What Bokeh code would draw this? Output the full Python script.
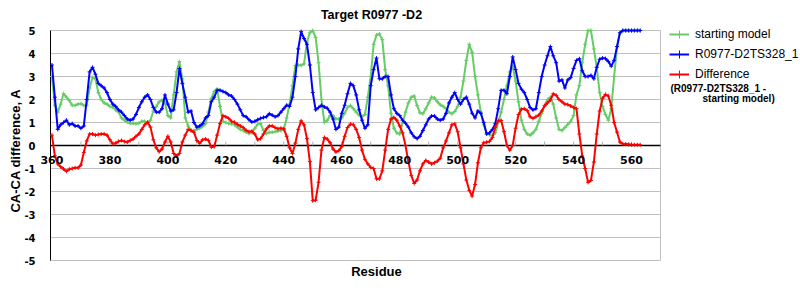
import math
from bokeh.plotting import figure
from bokeh.models import (Range1d, FixedTicker, Legend, LegendItem, Label, LabelSet,
                          ColumnDataSource, Grid)
from bokeh.core.properties import value
from bokeh.embed import file_html
from bokeh.resources import INLINE

# ---------------- data ----------------
residues = list(range(360, 564))

starting_model = [
    3.0, 1.75, 1.45, 1.8, 2.25, 2.1, 1.95, 1.75, 1.74, 1.8,
    1.82, 1.74, 1.75, 2.5, 2.95, 2.9, 2.3, 2.0, 1.85, 1.8,
    1.7, 1.67, 1.55, 1.45, 1.2, 1.1, 1.02, 0.96, 0.97, 0.95,
    0.97, 1.05, 1.05, 1.0, 1.1, 1.5, 1.7, 1.9, 1.97, 1.85,
    1.3, 1.2, 2.2, 3.2, 3.65, 2.9, 1.2, 0.85, 0.65, 0.65,
    0.7, 0.75, 0.83, 0.95, 1.45, 2.05, 2.35, 2.46, 1.7, 1.05,
    1.0, 0.96, 0.94, 0.9, 0.8, 0.7, 0.65, 0.58, 0.52, 0.55,
    0.75, 0.92, 0.95, 0.65, 0.52, 0.57, 0.58, 0.6, 0.63, 0.65,
    0.7, 1.2, 1.8, 2.6, 3.48, 3.5, 3.48, 3.55, 4.5, 4.9,
    5.0, 4.7, 3.6, 2.0, 1.0, 1.1, 1.3, 1.3, 1.16, 1.16,
    1.2, 1.4, 1.65, 1.74, 1.6, 1.45, 1.32, 1.25, 1.35, 2.1,
    3.0, 4.4, 4.8, 4.85, 4.6, 3.3, 2.6, 1.4, 0.75, 0.55,
    0.5, 1.0, 1.45, 1.85, 2.1, 2.15, 1.74, 1.42, 1.38, 1.6,
    1.85, 2.1, 2.07, 1.9, 1.77, 1.7, 1.6, 1.45, 1.38, 1.48,
    1.7, 2.1, 2.8, 3.7, 4.4, 4.05, 3.0, 2.2, 1.45, 0.9,
    0.55, 0.47, 0.43, 0.55, 1.0, 1.45, 2.0, 2.6, 3.2, 3.45,
    2.8, 1.9, 1.1, 0.7, 0.5, 0.45, 0.55, 0.7, 1.05, 1.4,
    1.75, 2.0, 2.1, 1.8, 1.2, 0.7, 0.65, 0.78, 0.92, 1.05,
    1.3, 2.2, 2.6, 3.6, 4.4, 5.0, 5.0, 4.2, 3.4, 2.3,
    1.7, 1.35, 1.1, 1.6, 3.0, 4.3, 4.9, 5.0, 5.0, 5.0,
    5.0, 5.0, 5.0, 5.0,
]

model_ts328 = [
    3.5, 2.1, 0.7, 0.9, 1.0, 1.1, 0.9, 0.95, 0.85, 0.85,
    0.75, 0.85, 2.0, 3.2, 3.4, 3.1, 2.7, 2.6, 2.5, 2.3,
    2.0, 1.8, 1.7, 1.55, 1.45, 1.3, 1.15, 1.1, 1.15, 1.35,
    1.65, 1.9, 2.1, 2.2, 2.0, 1.65, 1.45, 1.45, 1.6, 2.2,
    1.8, 1.5, 1.55, 2.3, 3.35, 2.7, 2.1, 1.45, 1.5, 1.0,
    0.8, 0.85, 0.95, 1.2, 1.3, 1.9, 2.1, 2.4, 2.4, 2.35,
    2.3, 2.2, 2.15, 2.0, 1.8, 1.55, 1.3, 1.25, 1.12, 1.02,
    1.05, 1.12, 1.18, 1.22, 1.25, 1.38, 1.32, 1.25, 1.3, 1.45,
    1.6, 1.75, 1.7, 2.1, 3.0, 4.2, 4.95, 4.65, 4.4, 3.5,
    2.3, 1.55, 1.65, 1.75, 1.68, 1.62, 1.45, 1.15, 0.7, 0.8,
    1.4, 1.75, 2.25, 2.7, 2.6, 2.2, 1.55, 1.1, 0.75, 0.9,
    2.6, 3.3, 3.8, 2.9, 2.9, 3.0, 3.0, 2.2, 1.6, 1.4,
    1.3, 1.1, 0.97, 0.8, 0.55, 0.38, 0.3, 0.4, 0.65, 0.9,
    1.15, 1.28, 1.28, 1.15, 1.1, 1.15, 1.4, 1.85, 2.1, 2.3,
    2.0, 1.8, 2.0, 2.1, 1.8, 1.4, 1.2, 1.5, 1.4, 1.0,
    0.5, 0.55, 0.7, 0.95, 1.6, 2.4, 2.4, 2.25, 3.0, 3.85,
    3.3, 2.7, 2.45, 2.3, 2.0, 1.65, 1.55, 1.6, 2.3, 3.0,
    3.5, 3.9, 4.3, 3.9, 3.6, 2.8, 2.85, 2.5, 2.85, 2.95,
    3.35, 3.7, 3.77, 3.25, 3.0, 3.0, 3.05, 2.9, 3.4, 3.75,
    3.8, 3.78, 3.65, 3.45, 3.7, 4.3, 4.9, 5.0, 5.0, 5.0,
    5.0, 5.0, 5.0, 5.0,
]

difference = [
    0.45, -0.45, -0.8, -0.92, -1.02, -1.12, -1.03, -1.0, -0.97, -0.97,
    -0.85, -0.3, 0.2, 0.5, 0.5, 0.45, 0.48, 0.5, 0.5, 0.45,
    0.25, 0.08, 0.1, 0.18, 0.22, 0.17, 0.15, 0.22, 0.28, 0.4,
    0.5, 0.7, 0.9, 1.01, 0.8, 0.25, -0.1, -0.27, -0.15, 0.15,
    0.4, 0.15, -0.35, -0.45, -0.35, 0.15, 0.45, 0.7, 0.65, 0.58,
    0.22, 0.1, 0.25, 0.28, 0.22, -0.07, -0.05, 0.45, 0.95, 1.3,
    1.25, 1.18, 1.05, 1.01, 0.92, 0.85, 0.78, 0.66, 0.6, 0.62,
    0.5, 0.25, 0.3, 0.5, 0.72, 0.85, 0.85, 0.78, 0.73, 0.75,
    0.73, 0.4, -0.1, -0.35, 0.1, 0.7, 1.07, 0.9, 0.3, -0.7,
    -2.4, -2.38, -1.6, -0.2, 0.35, 0.28, 0.12, -0.15, -0.28, -0.22,
    -0.05, 0.4, 0.78, 0.93, 0.9, 0.7, 0.35, -0.2, -0.6, -0.8,
    -0.95, -1.0, -1.45, -1.45, -1.1, -0.2, 0.7, 1.15, 1.22, 1.1,
    0.85, 0.55, 0.0, -0.7, -1.3, -1.65, -1.5, -1.1, -0.8, -0.65,
    -0.72, -0.8, -0.75, -0.68, -0.55, -0.1, 0.2, 0.55, 0.9, 0.94,
    0.6, -0.1, -0.8, -1.5, -1.95, -2.2, -1.7, -0.75, -0.1, 0.12,
    0.14, 0.18, 0.35, 0.8, 1.08, 1.09, 0.6, 0.0, -0.2, 0.0,
    0.75, 1.35, 1.58, 1.6, 1.52, 1.25, 1.18, 1.25, 1.32, 1.5,
    1.72, 1.85, 1.98, 2.25, 2.18, 2.0, 1.9, 1.8, 1.78, 1.72,
    1.65, 1.6, 0.5, -0.45, -1.0, -1.6, -1.52, -0.72, 0.5, 1.5,
    2.05, 2.22, 2.15, 1.75, 1.0, 0.58, 0.15, 0.07, 0.07, 0.05,
    0.03, 0.03, 0.03, 0.03,
]

x_tick_values = [360, 380, 400, 420, 440, 460, 480, 500, 520, 540, 560]
x_tick_labels = [str(v) for v in x_tick_values]
x_minor_ticks = list(range(370, 570, 10))
y_tick_values = [-5, -4, -3, -2, -1, 0, 1, 2, 3, 4, 5]
y_tick_labels = ["-5", "-4", "-3", "-2", "-1", "0", "1", "2", "3", "4", "5"]

series_names = ["starting model", "R0977-D2TS328_1", "Difference"]
series_colors = ["#66CC66", "#0000FF", "#FF0000"]

# ---------------- layout ----------------
W, H = 800, 300
# plot area in canvas pixels and the data values at its edges
AREA_L, AREA_R, AREA_T, AREA_B = 50, 660, 30, 260
XA0, XA1 = 359.5, 570.0
YA0, YA1 = -5.0, 5.0
KX = (XA1 - XA0) / (AREA_R - AREA_L)
KY = (YA1 - YA0) / (AREA_B - AREA_T)


def xd(px):
    return XA0 + (px - AREA_L) * KX


def yd(py):
    return YA1 - (py - AREA_T) * KY


p = figure(width=W, height=H, output_backend="svg", toolbar_location=None,
           x_range=Range1d(xd(0), xd(W)), y_range=Range1d(yd(H), yd(0)),
           x_axis_location=None, y_axis_location=None,
           min_border_left=0, min_border_right=0, min_border_top=0, min_border_bottom=0)
p.background_fill_color = "white"
p.border_fill_color = "white"
p.outline_line_color = None
p.grid.visible = False


def rule(dim, at, bounds, color, width):
    """A set of straight lines across the plot area (grid, axis line, border)."""
    try:
        g = Grid(dimension=dim, ticker=FixedTicker(ticks=list(at)), grid_line_color=color,
                 grid_line_width=width, cross_bounds=bounds)
        p.add_layout(g)
    except AttributeError:
        n = len(at)
        if dim == 1:
            p.segment(x0=[bounds[0]] * n, y0=list(at), x1=[bounds[1]] * n, y1=list(at),
                      line_color=color, line_width=width, level="underlay")
        else:
            p.segment(x0=list(at), y0=[bounds[0]] * n, x1=list(at), y1=[bounds[1]] * n,
                      line_color=color, line_width=width, level="underlay")


rule(1, y_tick_values, (XA0, XA1), "#c0c0c0", 1)        # horizontal grid
rule(0, [XA1], (YA0, YA1), "#c0c0c0", 1)                 # right border
rule(0, [XA0], (YA0, YA1), "black", 1)                   # y axis line
rule(1, [0], (XA0, XA1), "black", 1.3)                   # zero line

# small ticks on the zero line
p.segment(x0=x_minor_ticks, y0=[0] * len(x_minor_ticks), x1=x_minor_ticks,
          y1=[0.17] * len(x_minor_ticks), line_color="#b0b0b0", line_width=1)

# tick labels
xt_src = ColumnDataSource(dict(x=x_tick_values, y=[0] * len(x_tick_values), text=x_tick_labels))
p.add_layout(LabelSet(x="x", y="y", text="text", source=xt_src, text_align="center",
                      text_baseline="middle", y_offset=-14,
                      text_font=value("DejaVu Sans"), text_font_style="bold",
                      text_font_size="11px", text_color="black"))
yt_src = ColumnDataSource(dict(x=[XA0] * len(y_tick_values), y=y_tick_values, text=y_tick_labels))
p.add_layout(LabelSet(x="x", y="y", text="text", source=yt_src, text_align="right",
                      text_baseline="middle", x_offset=-15,
                      text_font=value("DejaVu Sans"), text_font_style="bold",
                      text_font_size="10px", text_color="black"))

# series
renderers = []
for vals, col in zip([starting_model, model_ts328, difference], series_colors):
    ln = p.line(residues, vals, line_color=col, line_width=2)
    sc = p.scatter(residues, vals, marker="cross", size=4, line_color=col, line_width=1)
    renderers.append([ln, sc])

legend = Legend(items=[LegendItem(label=n, renderers=r) for n, r in zip(series_names, renderers)],
                location=(669, H - 84), margin=0, padding=0, spacing=0,
                border_line_color=None, background_fill_alpha=0,
                glyph_width=20, glyph_height=20, label_height=20, label_standoff=6,
                label_text_font="Liberation Sans", label_text_font_size="12px",
                label_text_color="black")
p.add_layout(legend)

# texts
p.add_layout(Label(x=xd(670), y=yd(88), text="(R0977-D2TS328_1 -", text_font="Liberation Sans",
                   text_font_style="bold", text_font_size="10px", text_baseline="middle",
                   text_align="left", text_color="black"))
p.add_layout(Label(x=xd(702), y=yd(98), text="starting model)", text_font="Liberation Sans",
                   text_font_style="bold", text_font_size="10px", text_baseline="middle",
                   text_align="left", text_color="black"))
p.add_layout(Label(x=xd(371), y=yd(14), text="Target R0977 -D2", text_font="Liberation Sans",
                   text_font_style="bold", text_font_size="12.5px", text_align="center",
                   text_baseline="middle", text_color="black"))
p.add_layout(Label(x=xd(376), y=yd(271), text="Residue", text_font="Liberation Sans",
                   text_font_style="bold", text_font_size="13px", text_align="center",
                   text_baseline="middle", text_color="black"))
p.add_layout(Label(x=xd(15), y=yd(150), text="CA-CA difference, A", text_font="Liberation Sans",
                   text_font_style="bold", text_font_size="13px", text_align="center",
                   text_baseline="middle", angle=math.pi / 2, text_color="black"))

open("out.html", "w").write(file_html(p, INLINE))
